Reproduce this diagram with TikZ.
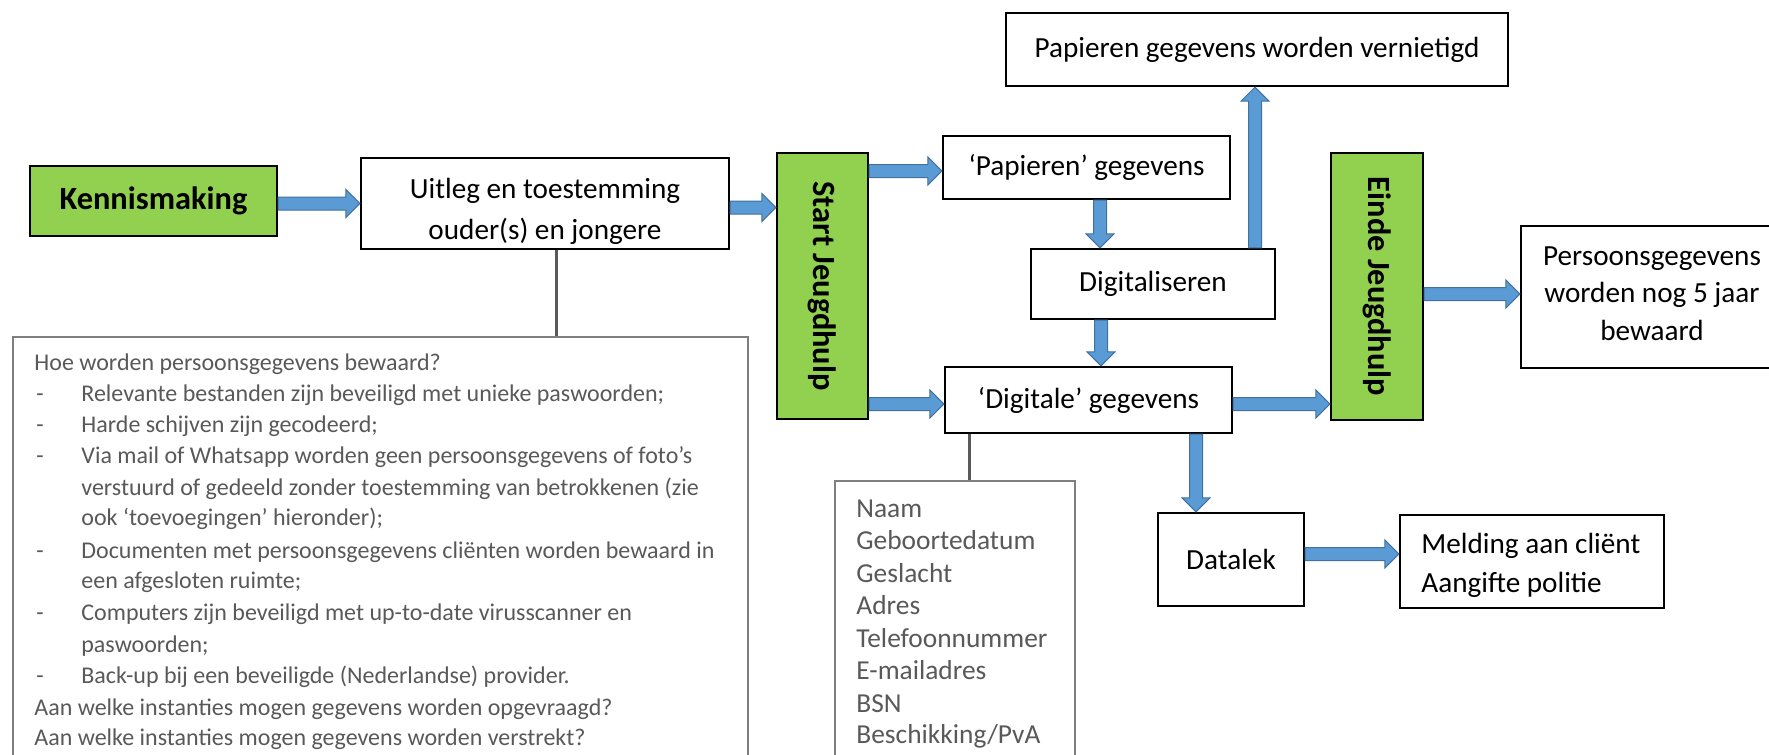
\documentclass[tikz,border=0pt]{standalone}
\usepackage{fontspec}
\setmainfont{Carlito}
\usetikzlibrary{calc}
\definecolor{kgreen}{HTML}{92D050}
\definecolor{afill}{HTML}{5B9BD5}
\definecolor{aedge}{HTML}{41719C}
\definecolor{gtext}{HTML}{595959}
\definecolor{gline}{HTML}{7F7F7F}
\definecolor{cline}{HTML}{595959}
\tikzset{
  box/.style={draw=black, line width=1.2pt, fill=white, inner sep=0pt, font=\fontsize{14.6}{17}\selectfont},
  greenbox/.style={box, fill=kgreen},
  graybox/.style={draw=gline, line width=0.8pt, fill=white, inner sep=0pt},
  btxt/.style={anchor=base, inner sep=0pt, font=\fontsize{14.6}{17}\selectfont},
  bltxt/.style={anchor=base west, inner sep=0pt, font=\fontsize{14.6}{17}\selectfont},
  gtxt/.style={anchor=base west, inner sep=0pt, text=gtext, font=\fontsize{12}{14}\selectfont},
  ntxt/.style={anchor=base west, inner sep=0pt, text=gtext, font=\fontsize{13.7}{16}\selectfont},
  vtxt/.style={rotate=-90, inner sep=0pt, font=\bfseries\fontsize{16.2}{19}\selectfont},
  link/.style={draw=cline, line width=1.5pt},
  barrow/.style={draw=aedge, fill=afill, line width=0.5pt, line join=miter,
    to path={let \p1=(\tikztostart), \p2=(\tikztotarget), \p3=($(\p2)!7pt!(\p1)$) in
      ($(\p1)!3.25pt!90:(\p2)$) -- ($(\p3)!3.25pt!90:(\p2)$) -- ($(\p3)!7pt!90:(\p2)$)
      -- (\p2) -- ($(\p3)!7pt!-90:(\p2)$) -- ($(\p3)!3.25pt!-90:(\p2)$)
      -- ($(\p1)!3.25pt!-90:(\p2)$) -- cycle}}
}
\begin{document}
\begin{tikzpicture}[x=0.5pt, y=-0.5pt]
\clip (0,0) rectangle (1769,755);
\fill[white] (0,0) rectangle (1769,755);

% boxes
\node[greenbox, minimum width=123.5pt, minimum height=35pt, font=\bfseries\fontsize{16.2}{19}\selectfont] (ken) at (153.5,201) {Kennismaking};
\node[box, minimum width=184pt, minimum height=45.5pt] (uit) at (545,203.5) {};
\node[greenbox, minimum width=45.5pt, minimum height=133pt] (start) at (822.5,286) {};
\node[box, minimum width=251pt, minimum height=36.5pt] (pv) at (1257,49.5) {Papieren gegevens worden vernietigd};
\node[box, minimum width=143.5pt, minimum height=31.5pt] (pap) at (1086.5,167.5) {‘Papieren’ gegevens};
\node[box, minimum width=122pt, minimum height=35pt] (dig) at (1153,284) {Digitaliseren};
\node[box, minimum width=143.5pt, minimum height=33pt] (dgt) at (1088.5,400) {‘Digitale’ gegevens};
\node[greenbox, minimum width=46pt, minimum height=133.5pt] (einde) at (1377,286.5) {};
\node[box, minimum width=132pt, minimum height=71pt] (pers) at (1653,297) {};
\node[box, minimum width=73pt, minimum height=46.5pt] (datalek) at (1231,559.5) {Datalek};
\node[box, minimum width=132pt, minimum height=46.5pt] (meld) at (1532,561.5) {};
\node[graybox, minimum width=367.5pt, minimum height=219pt] (info) at (380.5,556) {};
\node[graybox, minimum width=120pt, minimum height=147pt] (naam) at (955,628) {};

% vertical labels
\node[vtxt] (startlbl) at (start.center) {Start Jeugdhulp};
\node[vtxt] (eindelbl) at (einde.center) {Einde Jeugdhulp};

% uitleg text (clipped by its box)
\begin{scope}
\clip (uit.north west) rectangle (uit.south east);
\node[btxt] (uit1) at (545,198) {Uitleg en toestemming};
\node[btxt] (uit2) at (545,239) {ouder(s) en jongere};
\end{scope}

% persoonsgegevens text
\node[btxt] (pers1) at (1652,265) {Persoonsgegevens};
\node[btxt] (pers2) at (1652,302.5) {worden nog 5 jaar};
\node[btxt] (pers3) at (1652,340) {bewaard};

% melding text
\node[bltxt] (meld1) at (1421,553) {Melding aan cliënt};
\node[bltxt] (meld2) at (1421,592) {Aangifte politie};

% info text
\node[gtxt] (i1) at (34,370) {Hoe worden persoonsgegevens bewaard?};
\node[gtxt] (d2) at (36,401) {-};
\node[gtxt] (i2) at (81,401) {Relevante bestanden zijn beveiligd met unieke paswoorden;};
\node[gtxt] (d3) at (36,432) {-};
\node[gtxt] (i3) at (81,432) {Harde schijven zijn gecodeerd;};
\node[gtxt] (d4) at (36,463) {-};
\node[gtxt] (i4) at (81,463) {Via mail of Whatsapp worden geen persoonsgegevens of foto’s};
\node[gtxt] (i5) at (81,495) {verstuurd of gedeeld zonder toestemming van betrokkenen (zie};
\node[gtxt] (i6) at (81,525) {ook ‘toevoegingen’ hieronder);};
\node[gtxt] (d7) at (36,558) {-};
\node[gtxt] (i7) at (81,558) {Documenten met persoonsgegevens cliënten worden bewaard in};
\node[gtxt] (i8) at (81,588) {een afgesloten ruimte;};
\node[gtxt] (d9) at (36,620) {-};
\node[gtxt] (i9) at (81,620) {Computers zijn beveiligd met up-to-date virusscanner en};
\node[gtxt] (i10) at (81,652) {paswoorden;};
\node[gtxt] (d11) at (36,683) {-};
\node[gtxt] (i11) at (81,683) {Back-up bij een beveiligde (Nederlandse) provider.};
\node[gtxt] (i12) at (34,715) {Aan welke instanties mogen gegevens worden opgevraagd?};
\node[gtxt] (i13) at (34,745) {Aan welke instanties mogen gegevens worden verstrekt?};

% naam text
\node[ntxt] (n1) at (856,517) {Naam};
\node[ntxt] (n2) at (856,549) {Geboortedatum};
\node[ntxt] (n3) at (856,582) {Geslacht};
\node[ntxt] (n4) at (856,614) {Adres};
\node[ntxt] (n5) at (856,647) {Telefoonnummer};
\node[ntxt] (n6) at (856,679) {E-mailadres};
\node[ntxt] (n7) at (856,712) {BSN};
\node[ntxt] (n8) at (856,743) {Beschikking/PvA};

% gray links
\draw[link] ([xshift=5.5pt]uit.south) -- ([xshift=5.5pt]uit.south |- info.north);
\draw[link] ([xshift=-59.75pt]dgt.south) -- ([xshift=-59.75pt]dgt.south |- naam.north);

% block arrows
\draw[barrow] (ken.east |- uit.west) to (uit.west);
\draw[barrow] ([yshift=-2pt]uit.east) to ([yshift=-2pt]uit.east -| start.west);
\draw[barrow] ([yshift=-1.75pt]start.east |- pap.west) to ([yshift=-1.75pt]pap.west);
\draw[barrow] ([yshift=-2pt]start.east |- dgt.west) to ([yshift=-2pt]dgt.west);
\draw[barrow] ([xshift=6.75pt]pap.south) to ([xshift=6.75pt]pap.south |- dig.north);
\draw[barrow] ([xshift=7.25pt]pap.south |- dig.south) to ([xshift=7.25pt]pap.south |- dgt.north);
\draw[barrow] ([xshift=-1pt]pv.south |- dig.north) to ([xshift=-1pt]pv.south);
\draw[barrow] ([yshift=-2pt]dgt.east) to ([yshift=-2pt]dgt.east -| einde.west);
\draw[barrow] ([yshift=1.5pt]pers.west -| einde.east) to ([yshift=1.5pt]pers.west);
\draw[barrow] ([xshift=-17.5pt]datalek.north |- dgt.south) to ([xshift=-17.5pt]datalek.north);
\draw[barrow] ([yshift=2.75pt]datalek.east) to ([yshift=2.75pt]datalek.east -| meld.west);
\end{tikzpicture}
\end{document}
